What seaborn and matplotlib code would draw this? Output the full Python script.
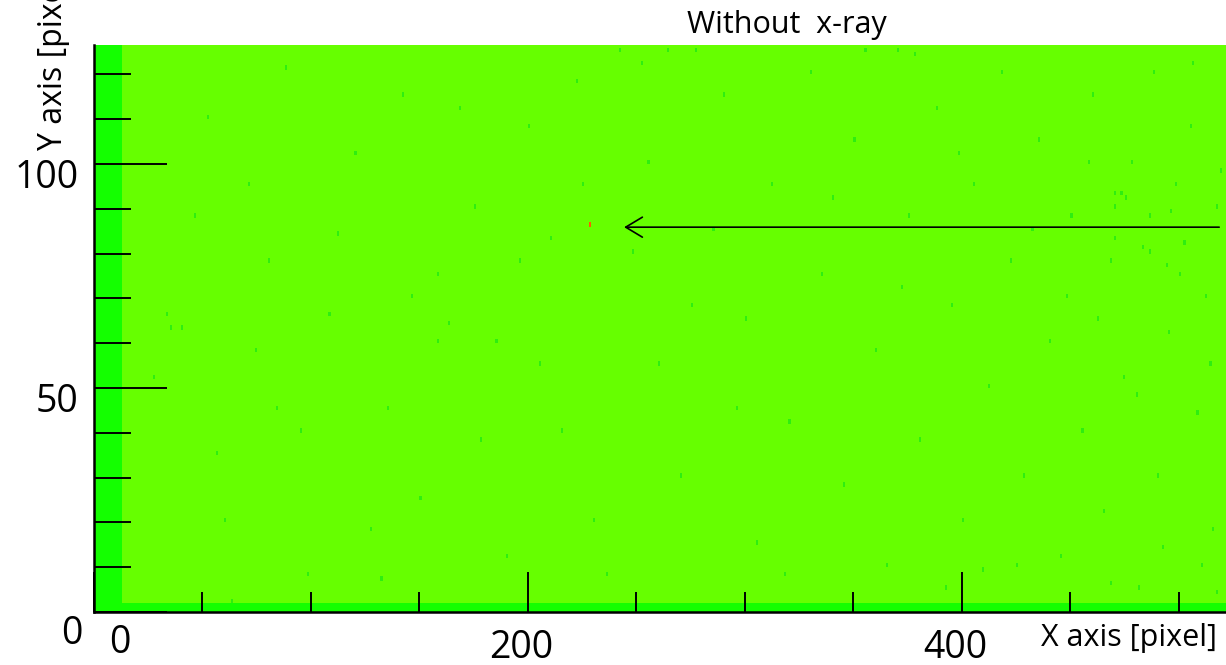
import numpy as np
import matplotlib
matplotlib.use('Agg')
import matplotlib.pyplot as plt
import matplotlib.transforms as mtransforms
import seaborn as sns
from matplotlib.colors import ListedColormap
from matplotlib.ticker import MultipleLocator, FixedLocator

sns.set_style('white')
plt.rcParams['font.family'] = ['Open Sans', 'DejaVu Sans']
plt.rcParams['text.color'] = 'black'
plt.rcParams['xtick.color'] = 'black'
plt.rcParams['ytick.color'] = 'black'

# detector frame size [pixel]
n_cols = 522
n_rows = 127

# brighter band along the left and bottom edges
edge_cols = 13
edge_rows = 2

# darker green specks (pixel coords)
spot_x = [470, 473, 475, 470, 498, 486, 496, 517, 470, 483, 486, 502, 468, 494, 500,
          158, 108, 163, 158, 210, 248, 33, 35, 40, 27,
          242, 264, 277, 370, 378, 392, 409, 468, 481, 510, 517, 63, 132,
          52, 71, 88, 95, 60, 80, 120, 135, 142, 150, 175, 185, 190, 200, 215, 222,
          230, 255, 260, 270, 285, 290, 300, 305, 312, 320, 330, 335, 345, 350, 360,
          365, 375, 380, 388, 395, 400, 405, 412, 418, 422, 428, 435, 440, 445, 450,
          455, 460, 462, 465, 478, 480, 488, 490, 495, 505, 508, 512, 515, 519,
          56, 74, 98, 112, 127, 146, 168, 178, 196, 205, 225, 236, 252, 275, 296,
          318, 340, 355, 372, 398, 425, 432, 448, 458, 474, 492, 506, 514, 46, 84]
spot_y = [93, 93, 92, 90, 95, 88, 89, 90, 83, 81, 80, 82, 78, 77, 75,
          75, 66, 64, 60, 83, 80, 66, 63, 63, 52,
          125, 125, 125, 125, 124, 5, 9, 6, 5, 10, 4, 2, 7,
          110, 95, 121, 40, 20, 78, 102, 45, 115, 25, 90, 60, 12, 108, 40, 118,
          20, 100, 55, 30, 85, 115, 65, 15, 95, 42, 120, 75, 28, 105, 58,
          10, 88, 38, 112, 68, 20, 95, 50, 120, 78, 30, 105, 60, 12, 88,
          40, 115, 65, 22, 100, 48, 120, 30, 62, 108, 44, 70, 18, 98,
          35, 58, 8, 84, 18, 70, 112, 38, 78, 55, 95, 8, 122, 68, 45,
          8, 92, 125, 72, 102, 10, 85, 70, 100, 52, 14, 122, 55, 88, 45]

# single red pixel pointed at by the arrow
red_x = 228
red_y = 86

frame = np.zeros((n_rows, n_cols))
frame[:, :edge_cols] = 1
frame[:edge_rows, :] = 1
frame[spot_y, spot_x] = 2
frame[red_y, red_x] = 3

colors = ['#66ff00', '#14ff00', '#2eee10', '#ff5a00']

fig = plt.figure(figsize=(12.26, 6.65), dpi=100)
W, H = 1226, 665
ax = fig.add_axes([94 / W, (H - 612) / H, 1 - 94 / W, (612 - 45) / H])

sns.heatmap(frame, cmap=ListedColormap(colors), vmin=-0.5, vmax=3.5, cbar=False,
            xticklabels=False, yticklabels=False, ax=ax, rasterized=True)

ax.set_xlim(0, (W - 94) / 2.17)
ax.set_ylim(0, (612 - 45) / 4.48)
ax.set_axisbelow(False)

# spines: only left and bottom
for side in ['top', 'right']:
    ax.spines[side].set_visible(False)
for side in ['left', 'bottom']:
    ax.spines[side].set_visible(True)
    ax.spines[side].set_color('black')
    ax.spines[side].set_linewidth(1.8)
    ax.spines[side].set_zorder(5)

# ticks
ax.xaxis.set_major_locator(FixedLocator([0, 200, 400]))
ax.xaxis.set_minor_locator(MultipleLocator(50))
ax.yaxis.set_major_locator(FixedLocator([0, 50, 100]))
ax.yaxis.set_minor_locator(MultipleLocator(10))
ax.set_xticklabels(['', '200', '400'])
ax.set_yticklabels(['', '50', '100'])

ax.tick_params(axis='y', which='major', direction='in', length=52.6, width=1.4,
               pad=11, labelsize=27, left=True, color='black', labelcolor='black')
ax.tick_params(axis='y', which='minor', direction='in', length=26.6, width=1.4,
               left=True, color='black')
ax.tick_params(axis='x', which='major', direction='in', length=28.8, width=1.4,
               pad=12, labelsize=27, bottom=True, color='black', labelcolor='black')
ax.tick_params(axis='x', which='minor', direction='in', length=14.4, width=1.4,
               bottom=True, color='black')

for lab in ax.get_yticklabels():
    lab.set_transform(lab.get_transform() + mtransforms.ScaledTranslation(0, -10 / 100, fig.dpi_scale_trans))
for lab in ax.get_xticklabels():
    lab.set_transform(lab.get_transform() + mtransforms.ScaledTranslation(-7 / 100, 0, fig.dpi_scale_trans))

# the two zero labels sit apart from their ticks
fig.text(72 / W, (H - 634) / H, '0', fontsize=27, ha='center', va='center')
fig.text(120 / W, (H - 643) / H, '0', fontsize=27, ha='center', va='center')

# arrow to the red pixel
ax.annotate('', xy=(243, 85.9), xytext=(519.8, 85.9), annotation_clip=False,
            arrowprops=dict(arrowstyle='->,head_length=0.6,head_width=0.36',
                            color='black', lw=1.2, mutation_scale=20))

# labels and title
fig.text(787 / W, (H - 25) / H, 'Without  x-ray', fontsize=22, ha='center', va='center')
fig.text(1129 / W, (H - 638) / H, 'X axis [pixel]', fontsize=22, ha='center', va='center')
fig.text(53 / W, (H - 150) / H, 'Y axis [pixel]', fontsize=23, rotation=90,
         ha='center', va='bottom')

plt.savefig('out.png', dpi=100)
